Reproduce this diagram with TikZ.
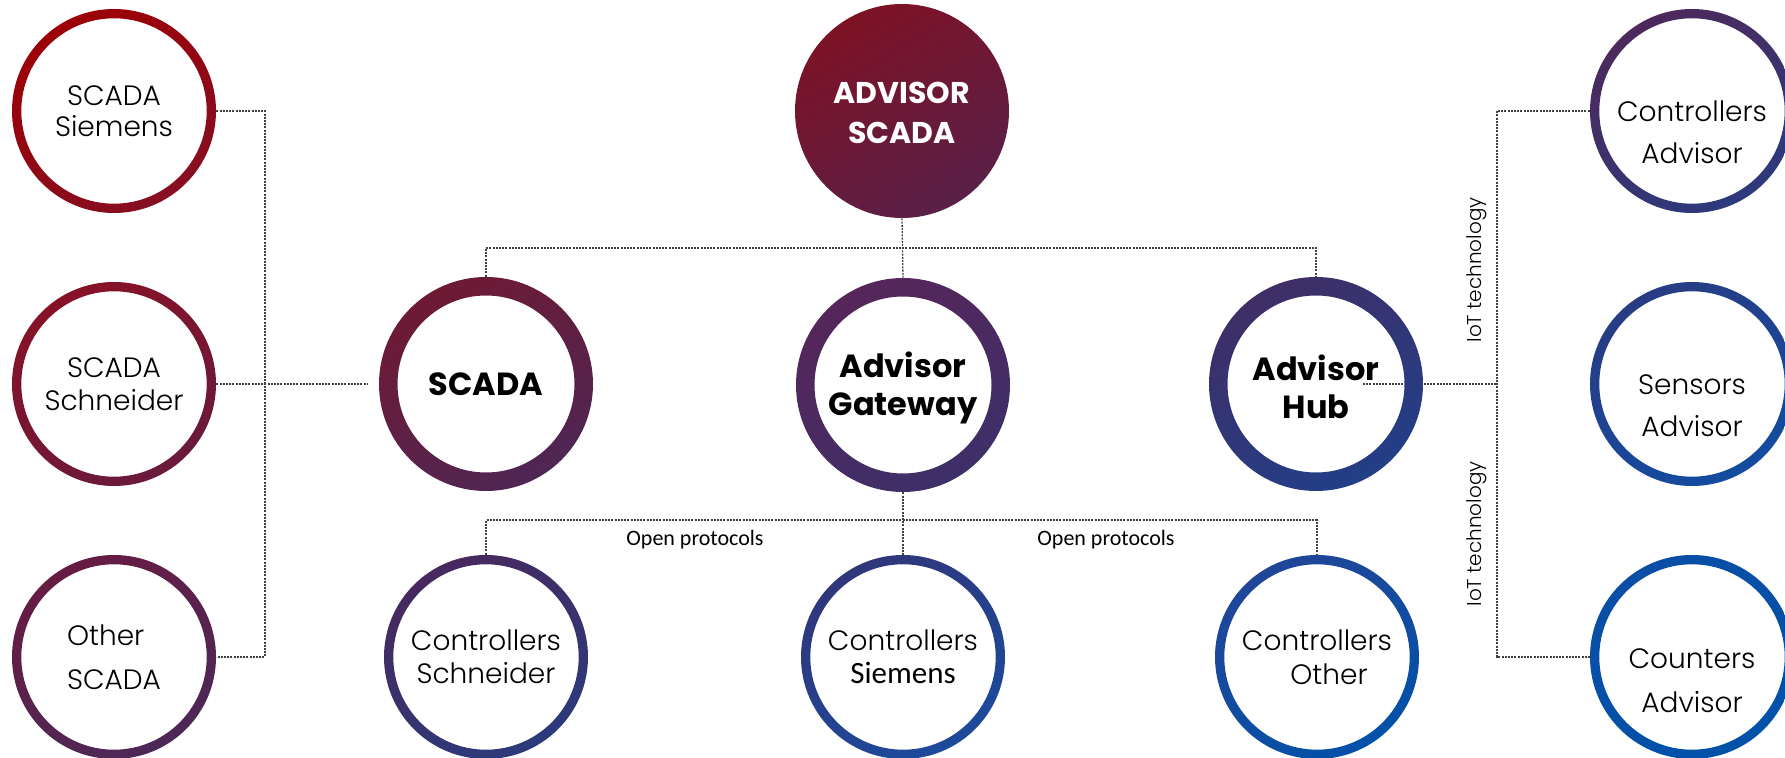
\documentclass[tikz,border=0pt]{standalone}
\usepackage{fontspec}
\newfontfamily\gothic{Poppins}[UprightFont={* Light},BoldFont={* Bold}]
\newfontfamily\calib{Carlito}
\pgfdeclarelayer{background}
\pgfsetlayers{background,main}
\definecolor{sSiemA}{HTML}{9C0006}\definecolor{sSiemB}{HTML}{860F22}
\definecolor{sSchnA}{HTML}{861228}\definecolor{sSchnB}{HTML}{6A1A3C}
\definecolor{sOtherA}{HTML}{661C42}\definecolor{sOtherB}{HTML}{4C2858}
\definecolor{advA}{HTML}{7D1225}\definecolor{advB}{HTML}{5A2048}
\definecolor{scadaA}{HTML}{6E1A34}\definecolor{scadaB}{HTML}{4F2653}
\definecolor{gateA}{HTML}{56265A}\definecolor{gateB}{HTML}{3D2F68}
\definecolor{hubA}{HTML}{3F2E66}\definecolor{hubB}{HTML}{223F88}
\definecolor{cSchnA}{HTML}{47295E}\definecolor{cSchnB}{HTML}{2C3A7C}
\definecolor{cSiemA}{HTML}{30377A}\definecolor{cSiemB}{HTML}{1C4A9C}
\definecolor{cOtherA}{HTML}{214698}\definecolor{cOtherB}{HTML}{0251A8}
\definecolor{cAdvA}{HTML}{4D295C}\definecolor{cAdvB}{HTML}{2D3A7C}
\definecolor{sensA}{HTML}{283C84}\definecolor{sensB}{HTML}{134CA0}
\definecolor{countA}{HTML}{0A4EA6}\definecolor{countB}{HTML}{0052A8}
\begin{document}
\begin{tikzpicture}[x=0.5pt,y=-0.5pt,
  conn/.style={draw=black!75, line width=0.65pt, dash pattern=on 1pt off 0.6pt},
  small/.style={circle, minimum size=102pt, inner sep=0pt, align=center},
  big/.style={circle, minimum size=107pt, inner sep=0pt, align=center, font=\gothic\bfseries\fontsize{16}{19}\selectfont},
  reg/.style={font=\gothic\fontsize{14}{#1}\selectfont},
  lbl/.style={font=\calib\fontsize{11}{13}\selectfont, inner sep=0pt},
  iot/.style={font=\gothic\fontsize{10}{12}\selectfont, rotate=90, inner sep=0pt},
]
\useasboundingbox (0,0) rectangle (1785,758);

% nodes
\node[small, reg=15.5pt] (sSiem) at (114,111) {SCADA\\Siemens};
\node[small, reg=16.5pt] (sSchn) at (114,384) {SCADA\\Schneider};
\node[small, reg=22pt, align=left] (sOther) at (114,657) {Other\\SCADA};
\node[big, top color=advA, bottom color=advB, shading angle=30, text=white,
      font=\gothic\bfseries\fontsize{15}{20}\selectfont] (advisor) at (902,111) {\rule{0pt}{13pt}ADVISOR\\SCADA};
\node[big] (scada) at (486,384) {SCADA};
\node[big] (gateway) at (903,385) {\rule{0pt}{15.5pt}Advisor\\Gateway};
\node[big] (hub) at (1316,384) {\rule{0pt}{15.5pt}Advisor\\Hub};
\node[small, reg=16.5pt] (cSchn) at (486,657) {Controllers\\Schneider};
\node[small, reg=16.5pt] (cSiem) at (903,657) {Controllers\\{\calib\fontsize{15.5}{16.5}\selectfont Siemens}};
\node[small, reg=17pt] (cOther) at (1317,657) {Controllers\\\hspace*{12pt}Other};
\node[small, reg=21pt] (cAdv) at (1692,111) {\rule{0pt}{10.7pt}\\Controllers\\Advisor};
\node[small, reg=21pt] (sens) at (1692,384) {\rule{0pt}{10.7pt}\\Sensors\\Advisor};
\node[small, reg=22pt] (count) at (1692,657) {\rule{0pt}{11.4pt}\\Counters\\Advisor};

% labels
\node[lbl] (op1) at (695,540) {Open protocols};
\node[lbl] (op2) at (1106,540) {Open protocols};
\node[iot] (iot1) at (1477,270) {IoT technology};
\node[iot] (iot2) at (1477,534) {IoT technology};

% junction coordinates
\coordinate (ljoin) at (265,384);
\coordinate (tbar) at (903,248);
\coordinate (bbar) at (903,520);
\coordinate (hubin) at (1363,384);
\coordinate (rjoin) at (1497,384);

% rings
\foreach \n/\ro/\ri/\ca/\cb in {
  sSiem/51pt/46.35pt/sSiemA/sSiemB,
  sSchn/51pt/46.35pt/sSchnA/sSchnB,
  sOther/51pt/46.35pt/sOtherA/sOtherB,
  scada/53.5pt/44.25pt/scadaA/scadaB,
  gateway/53.5pt/44.25pt/gateA/gateB,
  hub/53.5pt/44.25pt/hubA/hubB,
  cSchn/51pt/46.35pt/cSchnA/cSchnB,
  cSiem/51pt/46.35pt/cSiemA/cSiemB,
  cOther/51pt/46.35pt/cOtherA/cOtherB,
  cAdv/51pt/46.35pt/cAdvA/cAdvB,
  sens/51pt/46.35pt/sensA/sensB,
  count/51pt/46.35pt/countA/countB}
  {\shade[even odd rule, top color=\ca, bottom color=\cb, shading angle=30]
     (\n.center) circle (\ro) circle (\ri);}

% connectors
\begin{pgfonlayer}{background}
\draw[conn] (sSiem.east) -| (ljoin) |- (sOther.east);
\draw[conn, shorten >=5.5pt] (sSchn.east) -- (scada.west);
\draw[conn] (advisor.south) -- (gateway.north);
\draw[conn] (scada.north) |- (tbar) -| (hub.north);
\draw[conn] (gateway.south) -- (cSiem.north);
\draw[conn] (cSchn.north) |- (bbar) -| (cOther.north);
\draw[conn] (hubin) -- (rjoin);
\draw[conn] (cAdv.west) -| (rjoin) |- (count.west);
\end{pgfonlayer}
\end{tikzpicture}
\end{document}
